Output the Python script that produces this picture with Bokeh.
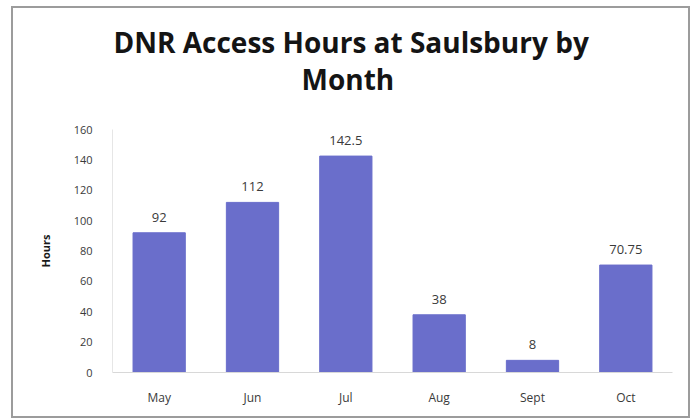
from bokeh.plotting import figure
from bokeh.models import ColumnDataSource, LabelSet, Title, FixedTicker, Range1d
from bokeh.embed import file_html
from bokeh.resources import INLINE
from bokeh.core.properties import value

months = ["May", "Jun", "Jul", "Aug", "Sept", "Oct"]
hours = [92, 112, 142.5, 38, 8, 70.75]
hour_labels = ["92", "112", "142.5", "38", "8", "70.75"]
y_ticks = [0, 20, 40, 60, 80, 100, 120, 140, 160]
title_lines = ["DNR Access Hours at Saulsbury by", "Month"]

src = ColumnDataSource(dict(month=months, hours=hours, label=hour_labels))

p = figure(width=679, height=412, x_range=months, y_range=Range1d(0, 160),
           output_backend="svg", toolbar_location=None,
           min_border_left=99, min_border_right=20, min_border_top=121, min_border_bottom=48)
p.styles = {"border": "2px solid #9c9c9c", "box-sizing": "border-box",
            "margin-left": "11px", "margin-top": "6px"}

p.vbar(x="month", top="hours", width=0.56, source=src, color="#6A6ECB")
p.add_layout(LabelSet(x="month", y="hours", text="label", source=src, y_offset=11,
                      text_align="center", text_font=value("Open Sans"),
                      text_font_size="13px", text_color="#3a3a3a"))

p.title.text = ""
# spacer between title and plot area, then the two title lines
p.add_layout(Title(text=" ", text_font_size="28px", standoff=0), "above")
for txt, off in zip(reversed(title_lines), [189, 1]):
    p.add_layout(Title(text=txt, align="left", offset=off, standoff=-3,
                       text_font="Open Sans", text_font_style="bold",
                       text_font_size="28px", text_color="#141414"), "above")

p.xgrid.visible = False
p.ygrid.visible = False
p.outline_line_color = None

p.yaxis.ticker = FixedTicker(ticks=y_ticks)
p.yaxis.axis_label = "Hours"
p.yaxis.axis_label_text_font = "Open Sans"
p.yaxis.axis_label_text_font_style = "bold"
p.yaxis.axis_label_text_font_size = "11px"
p.yaxis.axis_label_text_color = "#1a1a1a"
p.yaxis.axis_label_standoff = 18
for ax in (p.xaxis, p.yaxis):
    ax.axis_line_color = "#d8d8d8"
    ax.major_tick_line_color = None
    ax.minor_tick_line_color = None
    ax.major_label_text_font = "Open Sans"
    ax.major_label_text_color = "#3a3a3a"
p.yaxis.major_label_text_font_size = "11px"
p.xaxis.major_label_text_font_size = "12px"
p.yaxis.major_label_standoff = 14
p.xaxis.major_label_standoff = 10
p.yaxis.axis_line_color = "#e6e6e6"

open("out.html", "w").write(file_html(p, INLINE))
